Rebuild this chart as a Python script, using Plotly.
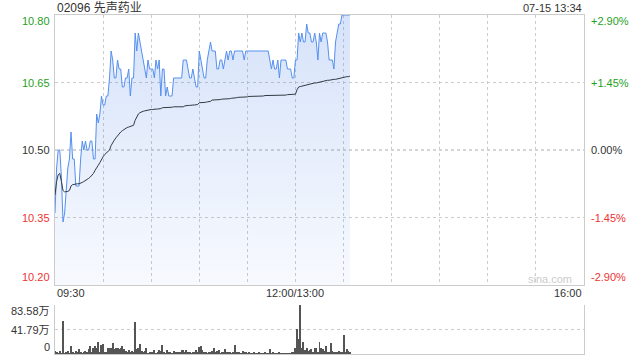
import plotly.graph_objects as go

# ---------------- data ----------------
price = [
    10.36, 10.46, 10.50, 10.50, 10.44, 10.34, 10.36, 10.42, 10.46, 10.48,
    10.54, 10.48, 10.48, 10.42, 10.42, 10.42, 10.48, 10.52, 10.50, 10.52,
    10.50, 10.50, 10.52, 10.52, 10.48, 10.48, 10.58, 10.56, 10.58, 10.62,
    10.60, 10.60, 10.62, 10.62, 10.66, 10.72, 10.70, 10.66, 10.66, 10.70,
    10.68, 10.68, 10.64, 10.64, 10.66, 10.66, 10.68, 10.62, 10.66, 10.66,
    10.76, 10.72, 10.76, 10.74, 10.72, 10.70, 10.68, 10.66, 10.70, 10.68,
    10.68, 10.68, 10.66, 10.70, 10.68, 10.70, 10.62, 10.68, 10.68, 10.62,
    10.64, 10.62, 10.62, 10.62, 10.66, 10.66, 10.66, 10.66, 10.66, 10.66,
    10.70, 10.70, 10.70, 10.68, 10.66, 10.66, 10.68, 10.66, 10.64, 10.64,
    10.72, 10.70, 10.68, 10.66, 10.66, 10.70, 10.72, 10.74, 10.72, 10.72,
    10.72, 10.68, 10.68, 10.70, 10.70, 10.68, 10.70, 10.72, 10.70, 10.72,
    10.72, 10.70, 10.72, 10.72, 10.72, 10.72, 10.72, 10.72, 10.70, 10.72,
    10.72, 10.72, 10.72, 10.72, 10.72, 10.72, 10.72, 10.72, 10.72, 10.72,
    10.72, 10.72, 10.72, 10.72, 10.70, 10.68, 10.70, 10.68, 10.68, 10.70,
    10.66, 10.70, 10.70, 10.70, 10.70, 10.68, 10.68, 10.68, 10.66, 10.66,
    10.70, 10.70, 10.76, 10.74, 10.76, 10.74, 10.74, 10.78, 10.76, 10.76,
    10.74, 10.74, 10.76, 10.74, 10.70, 10.76, 10.74, 10.76, 10.76, 10.76,
    10.74, 10.70, 10.70, 10.70, 10.68, 10.74, 10.76, 10.78, 10.78, 10.80,
    10.80, 10.80, 10.80, 10.80, 10.80,
]

avg_price = [
    10.400, 10.430, 10.445, 10.448, 10.430, 10.410, 10.407, 10.407, 10.408, 10.410,
    10.420, 10.423, 10.424, 10.424, 10.425, 10.425, 10.426, 10.428, 10.430, 10.432,
    10.434, 10.437, 10.440, 10.444, 10.448, 10.455, 10.462, 10.466, 10.472, 10.480,
    10.485, 10.490, 10.494, 10.497, 10.500, 10.510, 10.518, 10.522, 10.527, 10.532,
    10.537, 10.540, 10.543, 10.546, 10.548, 10.550, 10.551, 10.552, 10.553, 10.555,
    10.566, 10.574, 10.580, 10.583, 10.585, 10.586, 10.587, 10.588, 10.589, 10.589,
    10.590, 10.590, 10.591, 10.591, 10.591, 10.591, 10.592, 10.594, 10.594, 10.594,
    10.595, 10.595, 10.595, 10.595, 10.596, 10.596, 10.596, 10.596, 10.596, 10.596,
    10.596, 10.598, 10.599, 10.599, 10.599, 10.600, 10.600, 10.600, 10.600, 10.601,
    10.605, 10.605, 10.606, 10.606, 10.606, 10.607, 10.607, 10.608, 10.611, 10.611,
    10.611, 10.612, 10.612, 10.612, 10.613, 10.613, 10.613, 10.614, 10.614, 10.614,
    10.615, 10.615, 10.616, 10.616, 10.617, 10.617, 10.617, 10.617, 10.618, 10.618,
    10.618, 10.619, 10.619, 10.619, 10.619, 10.619, 10.620, 10.620, 10.620, 10.620,
    10.620, 10.621, 10.621, 10.621, 10.621, 10.621, 10.621, 10.622, 10.622, 10.622,
    10.622, 10.622, 10.622, 10.622, 10.622, 10.623, 10.623, 10.623, 10.623, 10.623,
    10.624, 10.634, 10.640, 10.641, 10.642, 10.643, 10.644, 10.644, 10.645, 10.646,
    10.647, 10.648, 10.649, 10.649, 10.650, 10.651, 10.652, 10.653, 10.654, 10.654,
    10.655, 10.655, 10.656, 10.656, 10.657, 10.657, 10.658, 10.658, 10.659, 10.660,
    10.662, 10.662, 10.663, 10.663, 10.664,
]

volume_wan = [
    5.6, 2, 1.5, 5.5, 1.5, 57, 1.5, 2, 5.5, 1.5,
    13, 2, 1.5, 5.6, 2, 8, 2, 1.5, 4, 5.5,
    4, 8, 14, 2, 11, 13, 11, 20.6, 2, 15,
    17, 4, 4, 9.5, 9.5, 9.5, 18, 8, 11, 9.5,
    8, 9.5, 13, 8, 5.5, 2, 7, 4, 5.5, 2,
    54, 8, 9.5, 17, 5.5, 4, 5.5, 11, 1.5, 3,
    2, 2, 7, 1.5, 4, 7, 5.5, 15, 3, 1.5,
    7, 2, 3, 1.5, 5.5, 2, 2, 3, 4, 7,
    7, 2, 7, 4, 4, 1.5, 3, 3, 7, 4,
    12, 13, 7, 4, 3, 1.5, 3, 4, 5.5, 9.5,
    4, 5.5, 6.5, 1.5, 3, 3, 8, 3, 2, 2,
    1.5, 2, 15, 3, 2, 2, 1.5, 5.5, 3, 2,
    1.5, 2, 1.5, 1.5, 2, 1.5, 1.5, 2, 1.5, 1.5,
    1.5, 2, 1.5, 1.5, 8, 1.5, 2, 1.5, 1, 1.5,
    2, 1, 1.5, 1, 1.5, 1, 1, 1.5, 2, 3,
    9.5, 42, 25, 83.58, 11, 20.6, 7, 9.5, 5.5, 7,
    8, 2, 9.5, 11, 3, 20.6, 11, 8, 5.5, 13,
    2, 4, 18, 5.5, 3, 4, 3, 5.5, 3, 2,
    32, 3, 8, 5.5, 2,
]

minutes = list(range(len(price)))  # minute index from 09:30 (lunch break removed)

price_ticks = [10.80, 10.65, 10.50, 10.35, 10.20]
price_tick_text = ["10.80", "10.65", "10.50", "10.35", "10.20"]
pct_tick_text = ["+2.90%", "+1.45%", "0.00%", "-1.45%", "-2.90%"]
vol_ticks = [83.58, 41.79, 0]
vol_tick_text = ["83.58万", "41.79万", "0"]
time_tick_pos = [0, 150, 330]
time_tick_text = ["09:30", "12:00/13:00", "16:00"]
title_text = "02096 先声药业"
stamp_text = "07-15 13:34"

# ---------------- styles ----------------
FONT = "Arial, 'Liberation Sans', 'Noto Sans CJK SC', sans-serif"
GREEN = "#1f9f1f"
RED = "#ee3333"
DARK = "#333333"
GRID = "#cccccc"
label_colors = [GREEN, GREEN, DARK, RED, RED]
label_shift = [-6, 0, 0, 0, 8]

fig = go.Figure()

fig.add_trace(go.Scatter(
    x=minutes, y=price, mode="lines",
    line=dict(color="#5590ef", width=1),
    fill="tozeroy",
    fillgradient=dict(
        type="vertical",
        colorscale=[[0, "rgba(60,120,230,0.04)"], [1, "rgba(60,120,230,0.21)"]],
        start=10.20, stop=10.80,
    ),
    xaxis="x", yaxis="y", hoverinfo="skip", showlegend=False,
))
fig.add_trace(go.Scatter(
    x=minutes, y=avg_price, mode="lines",
    line=dict(color="#333a44", width=1),
    xaxis="x", yaxis="y", hoverinfo="skip", showlegend=False,
))
fig.add_trace(go.Bar(
    x=minutes, y=volume_wan, width=0.62,
    marker=dict(color="#555555", line=dict(width=0)),
    xaxis="x2", yaxis="y2", hoverinfo="skip", showlegend=False,
))

grid_x = list(range(30, 330, 30))

fig.update_layout(
    width=640, height=360,
    margin=dict(l=55, r=56, t=15, b=6),
    paper_bgcolor="white", plot_bgcolor="white",
    font=dict(family=FONT, size=11, color=DARK),
    bargap=0,
    xaxis=dict(
        domain=[0, 1], range=[0, 330], tickvals=grid_x, showticklabels=False,
        ticks="", showgrid=True, gridcolor=GRID, griddash="dot", gridwidth=1,
        showline=True, mirror=True, linecolor=GRID, linewidth=1, zeroline=False,
        fixedrange=True,
    ),
    yaxis=dict(
        domain=[0.2035, 1], range=[10.20, 10.80], tickvals=[10.35, 10.65],
        showticklabels=False, ticks="", showgrid=True, gridcolor=GRID,
        griddash="dot", gridwidth=1, showline=True, mirror=True,
        linecolor=GRID, linewidth=1, zeroline=False,
    ),
    xaxis2=dict(
        domain=[0, 1], range=[0, 330], anchor="y2", showticklabels=False,
        ticks="", showgrid=False, showline=True, mirror=False,
        linecolor=GRID, linewidth=1, zeroline=False,
    ),
    yaxis2=dict(
        domain=[0, 0.1445], range=[0, 83.58], anchor="x2",
        tickvals=[41.79, 83.58], showticklabels=False, ticks="",
        showgrid=True, gridcolor=GRID, griddash="dot", gridwidth=1,
        showline=True, mirror=True, linecolor=GRID, linewidth=1, zeroline=False,
    ),
)

# prev-close line (10.50)
fig.add_shape(type="line", xref="x", yref="y", x0=0, x1=330, y0=10.50, y1=10.50,
              line=dict(color="#aaaaaa", width=1, dash="3px,3px"), layer="below")

ann = []
for v, t, p, c, s in zip(price_ticks, price_tick_text, pct_tick_text, label_colors, label_shift):
    ann.append(dict(xref="paper", yref="y", x=0, y=v, text=t, xanchor="right",
                    yanchor="middle", xshift=-3, yshift=s, showarrow=False,
                    font=dict(size=11, color=c)))
    ann.append(dict(xref="paper", yref="y", x=1, y=v, text=p, xanchor="left",
                    yanchor="middle", xshift=5, yshift=s, showarrow=False,
                    font=dict(size=11, color=c)))

for v, t, s in zip(vol_ticks, vol_tick_text, [-6, 0, 7]):
    ann.append(dict(xref="paper", yref="y2", x=0, y=v, text=t, xanchor="right",
                    yanchor="middle", xshift=-3, yshift=s, showarrow=False,
                    font=dict(size=11, color=DARK)))

for pos, t, xa in zip(time_tick_pos, time_tick_text, ["left", "center", "right"]):
    ann.append(dict(xref="x", yref="paper", x=pos, y=0.18, text=t, xanchor=xa,
                    yanchor="middle", showarrow=False, font=dict(size=11, color=DARK)))

ann.append(dict(xref="paper", yref="paper", x=0, y=1.021, text=title_text,
                xanchor="left", yanchor="middle", showarrow=False,
                font=dict(size=12, color=DARK)))
ann.append(dict(xref="paper", yref="paper", x=1, y=1.021, text=stamp_text,
                xanchor="right", yanchor="middle", showarrow=False,
                font=dict(size=11, color=DARK)))
ann.append(dict(xref="x", yref="y", x=330, y=10.20, text="sina.com",
                xanchor="right", yanchor="middle", xshift=-10, yshift=6,
                showarrow=False, font=dict(size=11, color="#cccccc")))

fig.update_layout(annotations=ann)

fig.write_html("out.html", config={"displayModeBar": False})
